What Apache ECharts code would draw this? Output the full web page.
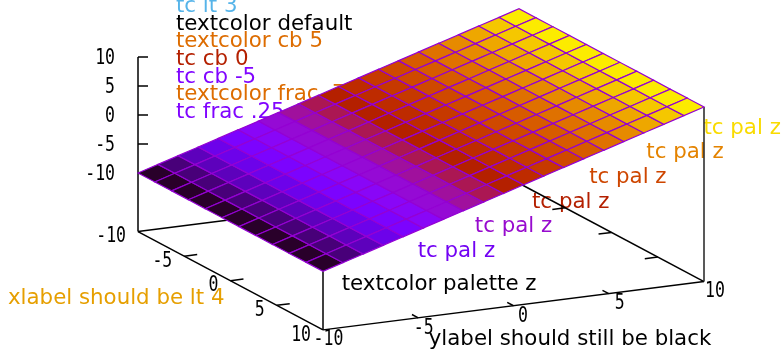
<!DOCTYPE html>
<html><head><meta charset="utf-8">
<style>html,body{margin:0;padding:0;background:#fff}#c{width:783px;height:349px}</style>
<script src="https://cdn.jsdelivr.net/npm/echarts@6/dist/echarts.min.js"></script>
</head><body><div id="c"></div>
<script>
// ---- data ----
const xSamples = [-10,-8.18,-6.36,-4.55,-2.73,-0.91,0.91,2.73,4.55,6.36,8.18,10];
const ySamples = [-10,-8.95,-7.89,-6.84,-5.79,-4.74,-3.68,-2.63,-1.58,-0.53,0.53,1.58,2.63,3.68,4.74,5.79,6.84,7.89,8.95,10];
const zAtY     = [-10,-8.95,-7.89,-6.84,-5.79,-4.74,-3.68,-2.63,-1.58,-0.53,0.53,1.58,2.63,3.68,4.74,5.79,6.84,7.89,8.95,10];
const xTicks = [-10,-5,0,5,10];
const yTicks = [-10,-5,0,5,10];
const zTicks = [-10,-5,0,5,10];
const palLabelText = 'tc pal z';
const palLabelY = [10.4,7.4,4.4,1.4,-1.6,-4.6];
const palLabelZ = [9,6,3,0,-3,-6];
const cornerTexts = ['tc lt 3','textcolor default','textcolor cb 5','tc cb 0','tc cb -5','textcolor frac .75','tc frac .25'];
const cornerFracs = [null,null,0.75,0.5,0.25,0.75,0.25];
const xLabelText = 'xlabel should be lt 4';
const yLabelText = 'ylabel should still be black';
const paletteLabelText = 'textcolor palette z';

// ---- layout and style ----
const W = 783, H = 349;
const ORIGIN = [421,140], EX = [9.25,4.915], EY = [19.05,-2.415], EZ = [0,-5.8];
const Z_FLOOR = -20.1;
const TEXT_FONT = '21.33px "DejaVu Sans"';
const MONO_FONT = '22px "DejaVu Sans Mono"';
const MONO_SCALE = 0.75;
const CORNER_X = 176, CORNER_Y = [6,24,41,59,77,94,112];
const CORNER_COLORS = ['#56b4e9','#000000'];
const YTICK_DX = [5.5,5.5,9.5,11,11], YTICK_DY = [9,10.5,10.5,9.5,9.5];

function project(x,y,z){
  return [ORIGIN[0]+EX[0]*x+EY[0]*y+EZ[0]*z, ORIGIN[1]+EX[1]*x+EY[1]*y+EZ[1]*z];
}
// gnuplot default palette (rgbformulae 7,5,15)
function palette(t){
  const c=v=>Math.round(255*Math.max(0,Math.min(1,v)));
  return 'rgb('+c(Math.sqrt(t))+','+c(t*t*t)+','+c(Math.sin(2*Math.PI*t))+')';
}
const zFrac = z => (z+10)/20;

// surface quads
const quads = [];
for(let j=0;j<ySamples.length-1;j++) for(let i=0;i<xSamples.length-1;i++){
  const x0=xSamples[i],x1=xSamples[i+1],y0=ySamples[j],y1=ySamples[j+1],z0=zAtY[j],z1=zAtY[j+1];
  quads.push({pts:[project(x0,y0,z0),project(x1,y0,z0),project(x1,y1,z1),project(x0,y1,z1)],
              color:palette(zFrac((z0+z1)/2))});
}

// axes segments
const xMin=-10,xMax=10,yMin=-10,yMax=10,zMin=-10,zMax=10;
const segs=[];
function seg(a,b,color,w){segs.push({a:project.apply(null,a),b:project.apply(null,b),color:color||'#000',w:w||1.5});}
seg([xMin,yMin,Z_FLOOR],[xMax,yMin,Z_FLOOR]);
seg([xMax,yMin,Z_FLOOR],[xMax,yMax,Z_FLOOR]);
seg([xMax,yMax,Z_FLOOR],[xMin,yMax,Z_FLOOR]);
seg([xMin,yMax,Z_FLOOR],[xMin,yMin,Z_FLOOR]);
seg([xMin,yMin,Z_FLOOR],[xMin,yMin,zMax]);
seg([xMax,yMin,Z_FLOOR],[xMax,yMin,zMin]);
seg([xMax,yMax,Z_FLOOR],[xMax,yMax,zMax],'#222',1.5);
const XTL=0.68,YTL=0.68;
xTicks.slice(1,-1).forEach(x=>{seg([x,yMin,Z_FLOOR],[x,yMin+YTL,Z_FLOOR]);seg([x,yMax,Z_FLOOR],[x,yMax-YTL,Z_FLOOR]);});
yTicks.slice(1,-1).forEach(y=>{seg([xMax,y,Z_FLOOR],[xMax-XTL,y,Z_FLOOR]);seg([xMin,y,Z_FLOOR],[xMin+XTL,y,Z_FLOOR]);});
zTicks.forEach(z=>{seg([xMin,yMin,z],[xMin+0.208,yMin+0.424,z]);});

// texts
const backTexts=[], frontTexts=[];
function txt(list,s,p,color,font,align,sx){list.push({s,x:p[0],y:p[1],color,font,align:align||'left',sx:sx||1});}
cornerTexts.forEach((s,i)=>{
  const c = cornerFracs[i]===null ? CORNER_COLORS[i] : palette(cornerFracs[i]);
  txt(backTexts,s,[CORNER_X,CORNER_Y[i]],c,TEXT_FONT);
});
palLabelY.forEach((y,i)=>txt(backTexts,palLabelText,project(13.3,y,palLabelZ[i]),palette(zFrac(palLabelZ[i])),TEXT_FONT,'center'));
txt(backTexts,paletteLabelText,project(13.2,-5.46,-11.4),'#000',TEXT_FONT,'center');
txt(backTexts,xLabelText,[8,298],'#e69f00',TEXT_FONT);
txt(backTexts,yLabelText,[570,339],'#000',TEXT_FONT,'center');
zTicks.forEach(z=>{const p=project(xMin,yMin,z);txt(frontTexts,String(z),[p[0]-23,p[1]+1],'#000',MONO_FONT,'right',MONO_SCALE);});
xTicks.forEach(x=>{const p=project(x,yMin,Z_FLOOR);txt(frontTexts,String(x),[p[0]-12,p[1]+5],'#000',MONO_FONT,'right',MONO_SCALE);});
yTicks.forEach((y,i)=>{const p=project(xMax,y,Z_FLOOR);txt(frontTexts,String(y),[p[0]+YTICK_DX[i],p[1]+YTICK_DY[i]],'#000',MONO_FONT,'center',MONO_SCALE);});

function textSeries(list,z){
  return {type:'custom',coordinateSystem:'cartesian2d',z,clip:false,silent:true,animation:false,
    data:list.map((_,i)=>[i]),
    renderItem(params,api){
      const t=list[api.value(0)],p=api.coord([t.x,t.y]);
      return {type:'text',x:p[0],y:p[1],scaleX:t.sx,
        style:{text:t.s,font:t.font,fill:t.color,textAlign:t.align,textVerticalAlign:'middle',textBaseline:'middle'}};
    }};
}
const chart=echarts.init(document.getElementById('c'),null,{renderer:'canvas'});
chart.setOption({
  animation:false,backgroundColor:'#fff',
  grid:{left:0,right:0,top:0,bottom:0},
  xAxis:{type:'value',min:0,max:W,show:false},
  yAxis:{type:'value',min:0,max:H,inverse:true,show:false},
  series:[
    textSeries(backTexts,1),
    {type:'custom',coordinateSystem:'cartesian2d',z:2,clip:false,silent:true,animation:false,
     data:segs.map((_,i)=>[i]),
     renderItem(params,api){
       const s=segs[api.value(0)],a=api.coord(s.a),b=api.coord(s.b);
       return {type:'line',shape:{x1:a[0],y1:a[1],x2:b[0],y2:b[1]},style:{stroke:s.color,lineWidth:s.w,fill:null}};
     }},
    textSeries(frontTexts,3),
    {type:'custom',coordinateSystem:'cartesian2d',z:4,clip:false,silent:true,animation:false,
     data:quads.map((_,i)=>[i]),
     renderItem(params,api){
       const q=quads[api.value(0)];
       return {type:'polygon',shape:{points:q.pts.map(p=>api.coord(p))},
         style:{fill:q.color,stroke:'#9400d3',lineWidth:1.2}};
     }}
  ]
});
</script></body></html>
